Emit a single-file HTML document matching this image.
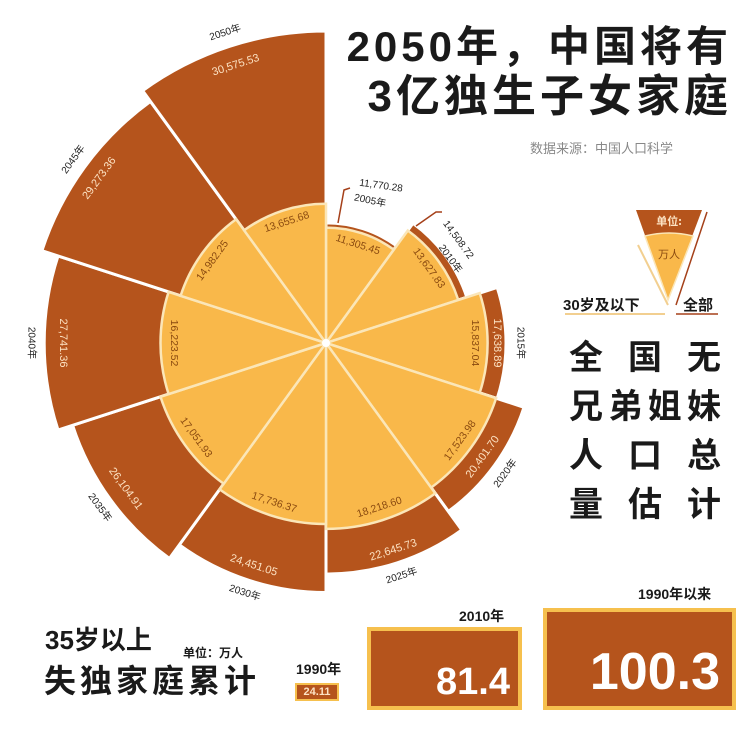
<!DOCTYPE html>
<html><head><meta charset="utf-8"><style>
body{margin:0;background:#fff;}
#w{position:relative;width:746px;height:734px;overflow:hidden;background:#fff;font-family:"Liberation Sans","Noto Sans CJK SC",sans-serif;}
.t{position:absolute;white-space:nowrap;color:#1a1a1a;font-weight:bold;}
</style></head><body><div id="w">
<svg width="746" height="734" style="position:absolute;left:0;top:0">
<g stroke="#fff" stroke-width="3" fill="#b5541c">
<path d="M326,343 L326,222.9 A120.1,120.1 0 0 1 396.6,245.8 Z"/>
<path d="M326,343 L413,223.3 A148,148 0 0 1 466.8,297.3 Z"/>
<path d="M326,343 L497.2,287.4 A180,180 0 0 1 497.2,398.6 Z"/>
<path d="M326,343 L524,407.3 A208.2,208.2 0 0 1 448.4,511.4 Z"/>
<path d="M326,343 L461.8,530 A231.1,231.1 0 0 1 326,574.1 Z"/>
<path d="M326,343 L326,592.5 A249.5,249.5 0 0 1 179.3,544.8 Z"/>
<path d="M326,343 L169.4,558.5 A266.4,266.4 0 0 1 72.6,425.3 Z"/>
<path d="M326,343 L58,430 A281,281 0 0 1 58,256 Z"/>
<path d="M326,343 L41.9,250.7 A298.7,298.7 0 0 1 150.4,101.4 Z"/>
<path d="M326,343 L142.6,90.6 A312,312 0 0 1 326,31 Z"/>
</g>
<g stroke="#fbe6b8" stroke-width="2.5" fill="#f9b84a">
<path d="M326,343 L326,227.6 A115.4,115.4 0 0 1 393.8,249.6 Z"/>
<path d="M326,343 L407.8,230.5 A139.1,139.1 0 0 1 458.3,300 Z"/>
<path d="M326,343 L479.7,293.1 A161.6,161.6 0 0 1 479.7,392.9 Z"/>
<path d="M326,343 L496.1,398.2 A178.8,178.8 0 0 1 431.1,487.6 Z"/>
<path d="M326,343 L435.3,493.4 A185.9,185.9 0 0 1 326,528.9 Z"/>
<path d="M326,343 L326,524 A181,181 0 0 1 219.6,489.4 Z"/>
<path d="M326,343 L223.7,483.8 A174,174 0 0 1 160.5,396.8 Z"/>
<path d="M326,343 L168.6,394.1 A165.5,165.5 0 0 1 168.6,291.9 Z"/>
<path d="M326,343 L180.6,295.8 A152.9,152.9 0 0 1 236.1,219.3 Z"/>
<path d="M326,343 L244.1,230.3 A139.3,139.3 0 0 1 326,203.7 Z"/>
</g>
<circle cx="326" cy="343" r="4" fill="#fff"/>
<g fill="none" stroke="#a5401a" stroke-width="1.5">
<polyline points="338,223 344,190 350,188"/>
<polyline points="416,226 436,212 442,212"/>
</g>
<g font-family="Liberation Sans, sans-serif" font-size="10.5" text-anchor="middle" dominant-baseline="middle" fill="#8a4a10">
<text transform="translate(357.8,245) rotate(18)">11,305.45</text>
<text transform="translate(428.7,268.4) rotate(54)">13,627.83</text>
<text transform="translate(475,343) rotate(90)">15,837.04</text>
<text transform="translate(460.3,440.6) rotate(-54)">17,523.98</text>
<text transform="translate(379.5,507.5) rotate(-18)">18,218.60</text>
<text transform="translate(274.1,502.8) rotate(18)">17,736.37</text>
<text transform="translate(195.8,437.6) rotate(54)">17,051.93</text>
<text transform="translate(174,343) rotate(90)">16,223.52</text>
<text transform="translate(212.7,260.7) rotate(-54)">14,982.25</text>
<text transform="translate(286.8,222.2) rotate(-18)">13,655.68</text>
</g>
<g font-family="Liberation Sans, sans-serif" font-size="11" text-anchor="middle" dominant-baseline="middle" fill="#fde3c4">
<text transform="translate(497,343) rotate(90)">17,638.89</text>
<text transform="translate(482.9,457) rotate(-54)">20,401.70</text>
<text transform="translate(393.4,550.3) rotate(-18)">22,645.73</text>
<text transform="translate(253.7,565.6) rotate(18)">24,451.05</text>
<text transform="translate(125.4,488.8) rotate(54)">26,104.91</text>
<text transform="translate(63,343) rotate(90)">27,741.36</text>
<text transform="translate(99.5,178.4) rotate(-54)">29,273.36</text>
<text transform="translate(235.8,65.3) rotate(-18)">30,575.53</text>
</g>
<g font-family="Liberation Sans, Noto Sans CJK SC, sans-serif" font-size="10" text-anchor="middle" dominant-baseline="middle" fill="#222">
<text transform="translate(520,343) rotate(90)">2015年</text>
<text transform="translate(505.6,473.5) rotate(-54)">2020年</text>
<text transform="translate(401.7,576) rotate(-18)">2025年</text>
<text transform="translate(244.7,593.1) rotate(18)">2030年</text>
<text transform="translate(99.5,507.6) rotate(54)">2035年</text>
<text transform="translate(31,343) rotate(90)">2040年</text>
<text transform="translate(73.6,159.6) rotate(-54)">2045年</text>
<text transform="translate(225.3,32.9) rotate(-18)">2050年</text>
<text x="381" y="186" transform="rotate(8 381 186)">11,770.28</text>
<text x="370" y="201" transform="rotate(12 370 201)">2005年</text>
<text transform="translate(458,240) rotate(54)">14,508.72</text>
<text transform="translate(450,259) rotate(54)">2010年</text>
</g>
<path d="M636,210 L702,210 L668,300 Z" fill="#b5541c"/>
<path d="M645,236 Q669,230 693,236 L668,300 Z" fill="#f9b84a" stroke="#fbe6b8" stroke-width="1.5"/>
<line x1="638" y1="245" x2="668" y2="305" stroke="#f2cf90" stroke-width="2"/>
<line x1="707" y1="212" x2="676" y2="305" stroke="#a5401a" stroke-width="1.5"/>
<line x1="565" y1="314" x2="665" y2="314" stroke="#f2cf90" stroke-width="2"/>
<line x1="676" y1="314" x2="718" y2="314" stroke="#a5401a" stroke-width="1.5"/>
<text x="669" y="225" font-size="11" font-weight="bold" text-anchor="middle" fill="#fde3c4" font-family="Noto Sans CJK SC, sans-serif">单位:</text>
<text x="669" y="258" font-size="11" text-anchor="middle" fill="#8a4a10" font-family="Noto Sans CJK SC, sans-serif">万人</text>
</svg>
<div class="t" style="right:14px;top:22px;font-size:42px;line-height:50px;letter-spacing:4px;">2050年，中国将有</div>
<div class="t" style="right:14px;top:72px;font-size:44px;line-height:50px;letter-spacing:4px;">3亿独生子女家庭</div>
<div class="t" style="left:530px;top:138px;font-size:13px;font-weight:normal;color:#888;">数据来源：中国人口科学</div>
<div class="t" style="left:563px;top:294px;font-size:15px;">30岁及以下</div>
<div class="t" style="left:683px;top:294px;font-size:15px;">全部</div>
<div class="t" style="left:569px;top:334px;width:152px;font-size:34px;line-height:49px;">
<div style="display:flex;justify-content:space-between"><span>全</span><span>国</span><span>无</span></div>
<div style="display:flex;justify-content:space-between"><span>兄</span><span>弟</span><span>姐</span><span>妹</span></div>
<div style="display:flex;justify-content:space-between"><span>人</span><span>口</span><span>总</span></div>
<div style="display:flex;justify-content:space-between"><span>量</span><span>估</span><span>计</span></div>
</div>
<div class="t" style="left:45px;top:620px;font-size:26px;">35岁以上</div>
<div class="t" style="left:183px;top:644px;font-size:12px;">单位：万人</div>
<div class="t" style="left:44px;top:656px;font-size:32px;letter-spacing:4px;">失独家庭累计</div>
<div class="t" style="left:296px;top:659px;font-size:14px;">1990年</div>
<div style="position:absolute;left:295px;top:683px;width:44px;height:18px;background:#b5541c;border:2px solid #f6c04e;box-sizing:border-box;color:#fde3c4;font:bold 11px 'Liberation Sans',sans-serif;text-align:center;line-height:14px;">24.11</div>
<div class="t" style="left:459px;top:606px;font-size:14px;">2010年</div>
<div style="position:absolute;left:367px;top:627px;width:155px;height:83px;background:#b5541c;border:4px solid #f6c04e;box-sizing:border-box;"><span style="position:absolute;right:8px;bottom:2px;color:#fff;font:bold 38px 'Liberation Sans',sans-serif;">81.4</span></div>
<div class="t" style="left:638px;top:584px;font-size:14px;">1990年以来</div>
<div style="position:absolute;left:543px;top:608px;width:193px;height:102px;background:#b5541c;border:4px solid #f6c04e;box-sizing:border-box;"><span style="position:absolute;right:12px;bottom:4px;color:#fff;font:bold 52px 'Liberation Sans',sans-serif;">100.3</span></div>
</div></body></html>
